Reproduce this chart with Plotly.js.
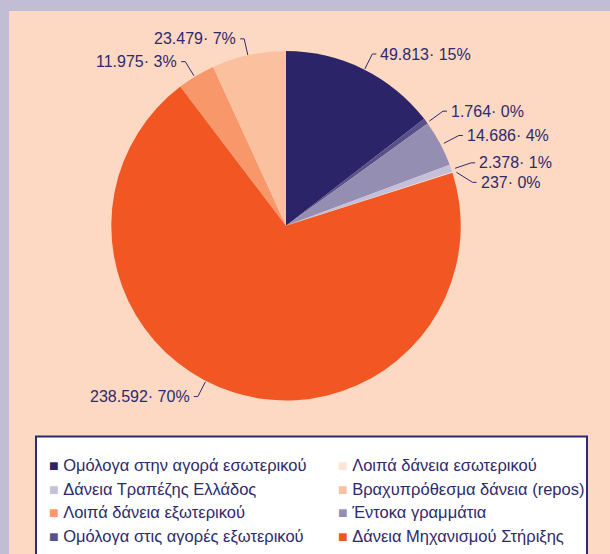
<!DOCTYPE html>
<html>
<head>
<meta charset="utf-8">
<script src="https://cdn.plot.ly/plotly-3.0.1.min.js"></script>
<style>
  html, body { margin: 0; padding: 0; background: #c1bdd5; width: 610px; height: 554px; overflow: hidden; }
  #chart { position: absolute; left: 9px; top: 11px; width: 601px; height: 543px; }
</style>
</head>
<body>
<div id="chart"></div>
<script>
// Slices in clockwise order from 12 o'clock
const sliceLabels = [
  "Ομόλογα στην αγορά εσωτερικού",
  "Ομόλογα στις αγορές εξωτερικού",
  "Έντοκα γραμμάτια",
  "Δάνεια Τραπέζης Ελλάδος",
  "Λοιπά δάνεια εσωτερικού",
  "Δάνεια Μηχανισμού Στήριξης",
  "Λοιπά δάνεια εξωτερικού",
  "Βραχυπρόθεσμα δάνεια (repos)"
];
const sliceValues = [49813, 1764, 14686, 2378, 237, 238592, 11975, 23479];
const slicePct = ["15%", "0%", "4%", "1%", "0%", "70%", "3%", "7%"];
const sliceColors = ["#2b2468", "#58508a", "#958eb3", "#c4c0d9", "#fde4d6", "#f25623", "#f8976a", "#fbc19f"];

// Legend order (row by row, two columns)
const legendOrder = [
  "Ομόλογα στην αγορά εσωτερικού",
  "Λοιπά δάνεια εσωτερικού",
  "Δάνεια Τραπέζης Ελλάδος",
  "Βραχυπρόθεσμα δάνεια (repos)",
  "Λοιπά δάνεια εξωτερικού",
  "Έντοκα γραμμάτια",
  "Ομόλογα στις αγορές εξωτερικού",
  "Δάνεια Μηχανισμού Στήριξης"
];

const W = 601, H = 543;
const textColor = "#2e2a6c";
const font = "Liberation Sans, Arial, sans-serif";
const pieDomain = { x: [98 / W, 456 / W], y: [(H - 399) / H, (H - 41) / H] };

function fmtThousands(v) {
  return String(v).replace(/\B(?=(\d{3})+(?!\d))/g, ".");
}

const traces = [{
  type: "pie",
  labels: sliceLabels,
  values: sliceValues,
  sort: false,
  direction: "clockwise",
  rotation: 0,
  marker: { colors: sliceColors, line: { width: 0 } },
  textinfo: "none",
  hoverinfo: "label+value",
  showlegend: false,
  domain: pieDomain
}];

legendOrder.forEach(function (name) {
  const idx = sliceLabels.indexOf(name);
  traces.push({
    type: "scatter",
    mode: "markers",
    x: [null], y: [null],
    name: '<span style="color:' + sliceColors[idx] + '">■</span> <span style="font-size:16.5px">' + name + '</span>',
    marker: { symbol: "square", size: 1, color: "rgba(0,0,0,0)" },
    hoverinfo: "skip",
    showlegend: true
  });
});

// ---- outside labels with leader lines, derived from the slice values ----
const cx = (pieDomain.x[0] + pieDomain.x[1]) / 2 * W;
const cy = (1 - (pieDomain.y[0] + pieDomain.y[1]) / 2) * H;
const r = Math.min((pieDomain.x[1] - pieDomain.x[0]) * W, (pieDomain.y[1] - pieDomain.y[0]) * H) / 2;
const total = sliceValues.reduce((a, b) => a + b, 0);
const lead = 17, minGap = 20;

let cum = 0;
const items = sliceValues.map(function (v, i) {
  const mid = (cum + v / 2) / total; cum += v;
  let th = mid * 2 * Math.PI;
  // keep lower labels away from the vertical axis
  if (Math.cos(th) < 0 && Math.abs(Math.sin(th)) < 0.45) {
    th = Math.sin(th) < 0 ? Math.PI + Math.asin(0.45) : Math.PI - Math.asin(0.45);
  }
  const sx = Math.sin(th), cyv = -Math.cos(th);
  return {
    i: i,
    side: sx >= 0 ? 1 : -1,
    px: cx + r * sx, py: cy + r * cyv,
    qx: cx + (r + lead) * sx, qy: cy + (r + lead) * cyv,
    text: fmtThousands(v) + "· " + slicePct[i]
  };
});
items.forEach(it => it.ly = it.qy);
[1, -1].forEach(function (side) {
  const grp = items.filter(it => it.side === side).sort((a, b) => a.qy - b.qy);
  for (let k = 1; k < grp.length; k++) {
    if (grp[k].ly < grp[k - 1].ly + minGap) grp[k].ly = grp[k - 1].ly + minGap;
  }
});

const annotations = [];
const shapes = [{
  type: "rect", xref: "paper", yref: "paper", layer: "below",
  x0: 27 / W, x1: 578 / W, y0: -0.2, y1: (H - 436) / H,
  fillcolor: "#ffffff", line: { color: "#2e2a6c", width: 2 }
}];
items.forEach(function (it) {
  const hx = it.qx + 4 * it.side;
  shapes.push({
    type: "path", xref: "paper", yref: "paper",
    path: "M " + (it.px / W) + "," + (1 - it.py / H) +
          " L " + (it.qx / W) + "," + (1 - it.ly / H) +
          " L " + (hx / W) + "," + (1 - it.ly / H),
    line: { color: textColor, width: 1 }
  });
  annotations.push({
    xref: "paper", yref: "paper",
    x: (hx + 2 * it.side) / W, y: 1 - it.ly / H,
    xanchor: it.side > 0 ? "left" : "right", yanchor: "middle",
    text: it.text, showarrow: false,
    font: { family: font, size: 16, color: textColor }
  });
});

const layout = {
  width: W,
  height: H,
  margin: { l: 0, r: 0, t: 0, b: 0 },
  paper_bgcolor: "#fdd9c3",
  plot_bgcolor: "rgba(0,0,0,0)",
  showlegend: true,
  xaxis: { visible: false },
  yaxis: { visible: false },
  shapes: shapes,
  annotations: annotations,
  legend: {
    orientation: "h",
    x: 0, y: 0.176,
    xanchor: "left", yanchor: "top",
    bgcolor: "rgba(0,0,0,0)",
    borderwidth: 0,
    entrywidth: 244,
    entrywidthmode: "pixels",
    itemwidth: 30,
    tracegroupgap: 0,
    font: { family: font, size: 16, color: textColor }
  }
};

Plotly.newPlot("chart", traces, layout, { displayModeBar: false, staticPlot: true });
</script>
</body>
</html>
